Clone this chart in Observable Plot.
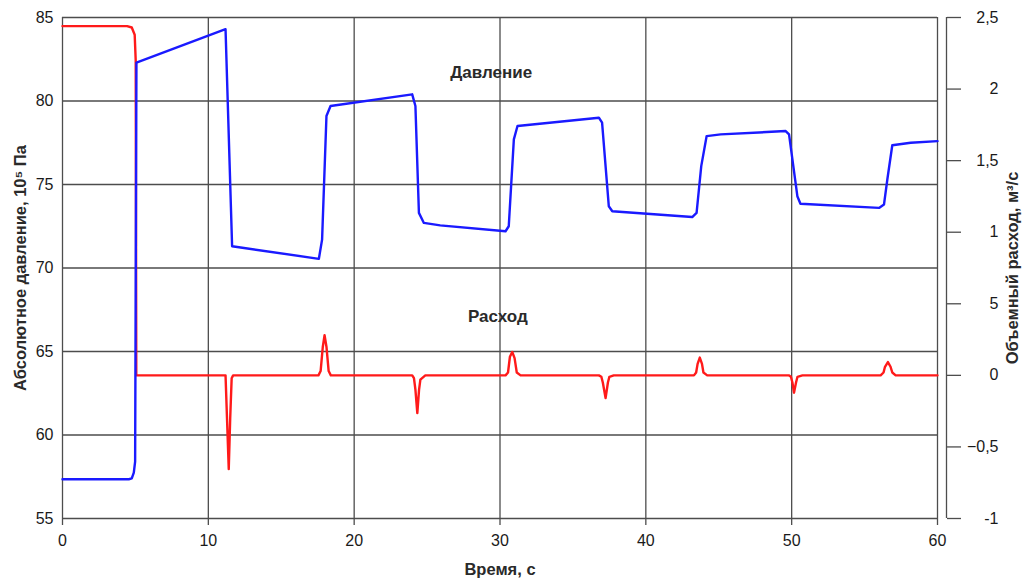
<!DOCTYPE html>
<html>
<head>
<meta charset="utf-8">
<script src="https://cdn.jsdelivr.net/npm/d3@7"></script>
<script src="https://cdn.jsdelivr.net/npm/@observablehq/plot@0.6"></script>
<style>
  html, body { margin: 0; padding: 0; background: #fff; }
  #chart { width: 1024px; height: 581px; }
</style>
</head>
<body>
<div id="chart"></div>
<script>
// Pressure (Давление), 10^5 Pa, left axis
const pressureTime = [0, 4.55, 4.75, 4.89, 4.98, 5.07, 11.18, 11.63, 17.58, 17.8, 18.1, 18.38, 23.98, 24.2, 24.44, 24.78, 25.9, 30.38, 30.6, 30.95, 31.2, 36.78, 37.0, 37.46, 37.7, 43.18, 43.48, 43.8, 44.17, 45.13, 49.59, 49.82, 50.39, 50.6, 55.99, 56.33, 56.56, 56.9, 58.16, 60];
const pressureValue = [57.35, 57.35, 57.4, 57.75, 58.4, 82.3, 84.3, 71.3, 70.55, 71.7, 79.1, 79.7, 80.4, 79.7, 73.3, 72.7, 72.55, 72.2, 72.5, 77.7, 78.5, 79.0, 78.7, 73.7, 73.4, 73.05, 73.3, 76.1, 77.9, 78.0, 78.2, 78.0, 74.3, 73.85, 73.6, 73.8, 75.3, 77.35, 77.5, 77.6];

// Flow (Расход), m^3/s, right axis
const flowTime = [0, 4.43, 4.75, 4.95, 5.02, 5.06, 11.18, 11.28, 11.4, 11.5, 11.6, 11.7, 17.55, 17.7, 17.85, 17.97, 18.1, 18.25, 18.4, 23.98, 24.1, 24.2, 24.33, 24.45, 24.54, 24.88, 30.38, 30.55, 30.68, 30.84, 31.0, 31.15, 31.41, 36.78, 36.95, 37.05, 37.24, 37.4, 37.5, 37.8, 43.3, 43.45, 43.55, 43.7, 43.85, 43.95, 44.21, 49.8, 49.95, 50.05, 50.16, 50.3, 50.4, 50.74, 56.1, 56.3, 56.4, 56.6, 56.78, 56.9, 57.13, 60];
const flowValue = [2.44, 2.44, 2.43, 2.38, 2.2, 0, 0, -0.3, -0.655, -0.3, -0.02, 0, 0, 0.03, 0.2, 0.28, 0.2, 0.03, 0, 0, -0.02, -0.1, -0.264, -0.1, -0.03, 0, 0, 0.02, 0.13, 0.163, 0.12, 0.02, 0, 0, -0.01, -0.05, -0.159, -0.05, -0.01, 0, 0, 0.02, 0.08, 0.124, 0.08, 0.02, 0, 0, -0.01, -0.05, -0.121, -0.05, -0.01, 0, 0, 0.02, 0.06, 0.093, 0.06, 0.02, 0, 0];

// Axes
const timeTicks = [0, 10, 20, 30, 40, 50, 60];
const pressureTicks = [55, 60, 65, 70, 75, 80, 85];
const flowTicks = [-1, -0.5, 0, 0.5, 1, 1.5, 2, 2.5];
const flowTickLabels = ["-1", "\u22120,5", "0", "5", "1", "1,5", "2", "2,5"];
const pressureDomain = [55, 85];
const flowDomain = [-1, 2.5];

// Series labels
const seriesNames = ["Давление", "Расход"];
const seriesLabelTime = [29.4, 29.85];
const seriesLabelPressure = [81.7, 67.1];

const xTitle = "Время, с";
const yTitle = "Абсолютное давление, 10\u2075 Па";
const y2Title = "Объемный расход, м\u00b3/с";

// map flow values onto the pressure scale (secondary axis)
const toP = f => pressureDomain[0] + (f - flowDomain[0]) * (pressureDomain[1] - pressureDomain[0]) / (flowDomain[1] - flowDomain[0]);

const pressure = pressureTime.map((t, i) => ({t, v: pressureValue[i]}));
const flow = flowTime.map((t, i) => ({t, v: toP(flowValue[i])}));
const labels = seriesNames.map((name, i) => ({name, t: seriesLabelTime[i], v: seriesLabelPressure[i]}));
const flowLabelMap = new Map(flowTicks.map((f, i) => [toP(f).toFixed(4), flowTickLabels[i]]));

const gridColor = "#4d4d4d";
const titleStyle = {fontWeight: "bold", fontSize: 16.5, fill: "#2a2a2a", textAnchor: "middle", lineAnchor: "middle"};

const chart = Plot.plot({
  width: 1024,
  height: 581,
  marginLeft: 62,
  marginRight: 87,
  marginTop: 17,
  marginBottom: 63,
  x: {domain: [0, 60]},
  y: {domain: pressureDomain},
  style: {fontFamily: "'Liberation Sans', Arial, sans-serif", fontSize: "16px", color: "#1a1a1a", background: "#fff"},
  marks: [
    Plot.ruleY(pressureTicks, {stroke: gridColor, strokeWidth: 1.3}),
    Plot.ruleX(timeTicks, {y1: 55, y2: 85, stroke: gridColor, strokeWidth: 1.3}),
    Plot.axisX({ticks: timeTicks, tickSize: 7, tickPadding: 9, stroke: gridColor, strokeWidth: 1.3, label: null, fill: "#1a1a1a"}),
    Plot.axisY({ticks: pressureTicks, tickSize: 0, tickPadding: 9, label: null, fill: "#1a1a1a"}),
    Plot.ruleX([60], {y1: 55, y2: 85, dx: 9, stroke: gridColor, strokeWidth: 1.3}),
    Plot.axisY({anchor: "right", ticks: flowTicks.map(toP), tickFormat: d => flowLabelMap.get(d.toFixed(4)), tickSize: 14, tickPadding: 38, textAnchor: "end", dx: 9, stroke: gridColor, strokeWidth: 1.3, label: null, fill: "#1a1a1a"}),
    Plot.line(flow, {x: "t", y: "v", stroke: "#ff1a1a", strokeWidth: 2.4, strokeLinejoin: "round"}),
    Plot.line(pressure, {x: "t", y: "v", stroke: "#1a1aff", strokeWidth: 2.4, strokeLinejoin: "round"}),
    Plot.text(labels, {x: "t", y: "v", text: "name", fontWeight: "bold", fontSize: 17, fill: "#2a2a2a"}),
    Plot.text([yTitle], {frameAnchor: "left", dx: -42, rotate: -90, ...titleStyle}),
    Plot.text([y2Title], {frameAnchor: "right", dx: 75, rotate: -90, ...titleStyle}),
    Plot.text([xTitle], {frameAnchor: "bottom", dy: 51, ...titleStyle})
  ]
});

document.getElementById("chart").appendChild(chart);
</script>
</body>
</html>
